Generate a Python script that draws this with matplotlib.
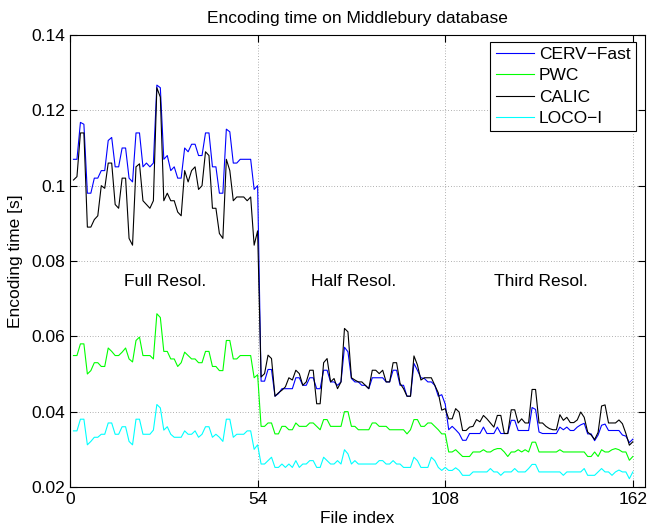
import numpy as np
import matplotlib
matplotlib.use('Agg')
import matplotlib.pyplot as plt

### Data, one value per file, index 1..162
file_index = np.arange(1, 163)

# Full resolution 1-54, half 55-108, third 109-162
cerv_fast = [
    0.107, 0.107, 0.1168, 0.1163, 0.098, 0.098, 0.102, 0.102, 0.104, 0.104,
    0.112, 0.1128, 0.105, 0.105, 0.110, 0.110, 0.102, 0.101, 0.114, 0.114,
    0.105, 0.106, 0.105, 0.106, 0.1267, 0.126, 0.107, 0.108, 0.104, 0.105,
    0.102, 0.102, 0.110, 0.109, 0.111, 0.111, 0.108, 0.108, 0.114, 0.114,
    0.105, 0.105, 0.098, 0.098, 0.115, 0.1143, 0.106, 0.106, 0.107, 0.107,
    0.107, 0.107, 0.099, 0.100,
    0.0481, 0.0481, 0.0512, 0.0512, 0.0441, 0.0448, 0.0461, 0.0461, 0.0461, 0.0461,
    0.049, 0.049, 0.047, 0.047, 0.049, 0.049, 0.0461, 0.0461, 0.051, 0.051,
    0.0479, 0.0479, 0.047, 0.0479, 0.0571, 0.0559, 0.0488, 0.0479, 0.0479, 0.047,
    0.047, 0.0461, 0.049, 0.049, 0.049, 0.049, 0.0479, 0.0479, 0.051, 0.051,
    0.047, 0.047, 0.0441, 0.0441, 0.0528, 0.051, 0.049, 0.0488, 0.0479, 0.0479,
    0.047, 0.0441, 0.0445, 0.042,
    0.0352, 0.0361, 0.0352, 0.0342, 0.0324, 0.0324, 0.0342, 0.0342, 0.0342, 0.0342,
    0.0359, 0.0342, 0.0342, 0.0342, 0.0359, 0.0342, 0.0342, 0.0342, 0.0377, 0.0377,
    0.035, 0.035, 0.035, 0.035, 0.0411, 0.0406, 0.0346, 0.0342, 0.0342, 0.0342,
    0.0342, 0.0342, 0.0359, 0.0352, 0.0359, 0.035, 0.035, 0.0359, 0.0365, 0.0369,
    0.0341, 0.0341, 0.0323, 0.0338, 0.0364, 0.0367, 0.035, 0.035, 0.035, 0.035,
    0.0338, 0.0335, 0.0318, 0.0327]

pwc = [
    0.0549, 0.0549, 0.058, 0.058, 0.050, 0.0509, 0.053, 0.053, 0.052, 0.052,
    0.0569, 0.056, 0.0549, 0.0549, 0.0558, 0.0569, 0.054, 0.0532, 0.0589, 0.0598,
    0.0549, 0.0549, 0.0549, 0.054, 0.066, 0.065, 0.056, 0.056, 0.054, 0.054,
    0.052, 0.053, 0.0558, 0.0549, 0.054, 0.054, 0.053, 0.053, 0.056, 0.056,
    0.052, 0.052, 0.0509, 0.0509, 0.0589, 0.0589, 0.054, 0.054, 0.0549, 0.0549,
    0.0549, 0.0549, 0.049, 0.0498,
    0.0361, 0.0361, 0.037, 0.037, 0.0341, 0.0341, 0.0361, 0.0361, 0.0352, 0.0352,
    0.037, 0.0361, 0.0361, 0.0361, 0.037, 0.037, 0.0361, 0.0352, 0.0379, 0.0379,
    0.0361, 0.0361, 0.0361, 0.0361, 0.040, 0.040, 0.0361, 0.0361, 0.0352, 0.0352,
    0.0352, 0.0352, 0.037, 0.037, 0.0361, 0.0361, 0.0361, 0.0352, 0.0352, 0.0352,
    0.0352, 0.0352, 0.0341, 0.0352, 0.0379, 0.0379, 0.0361, 0.0361, 0.037, 0.037,
    0.0361, 0.0352, 0.0341, 0.0341,
    0.0293, 0.0293, 0.0299, 0.029, 0.0281, 0.0281, 0.0281, 0.0293, 0.0293, 0.0293,
    0.0299, 0.0293, 0.0293, 0.0299, 0.0302, 0.0302, 0.0293, 0.0281, 0.0293, 0.0293,
    0.0299, 0.0293, 0.0299, 0.0293, 0.0319, 0.0319, 0.0293, 0.0293, 0.0293, 0.0293,
    0.0293, 0.0293, 0.0299, 0.0293, 0.0293, 0.0293, 0.0293, 0.0293, 0.0293, 0.0293,
    0.0281, 0.0281, 0.0293, 0.0281, 0.0299, 0.0293, 0.0293, 0.0299, 0.0302, 0.0299,
    0.0293, 0.0293, 0.0271, 0.0281]

calic = [
    0.1015, 0.1024, 0.114, 0.114, 0.089, 0.089, 0.091, 0.092, 0.100, 0.0993,
    0.106, 0.106, 0.095, 0.094, 0.102, 0.102, 0.086, 0.0842, 0.105, 0.1058,
    0.096, 0.095, 0.094, 0.096, 0.126, 0.1235, 0.096, 0.098, 0.096, 0.096,
    0.093, 0.092, 0.104, 0.101, 0.104, 0.105, 0.099, 0.100, 0.109, 0.108,
    0.094, 0.094, 0.0873, 0.086, 0.107, 0.104, 0.096, 0.097, 0.097, 0.097,
    0.096, 0.097, 0.0842, 0.088,
    0.0492, 0.0501, 0.055, 0.0541, 0.0441, 0.045, 0.0457, 0.0466, 0.049, 0.0484,
    0.051, 0.0501, 0.047, 0.0479, 0.051, 0.051, 0.0421, 0.0421, 0.053, 0.0541,
    0.0479, 0.0488, 0.0461, 0.0479, 0.0621, 0.0612, 0.049, 0.0484, 0.0479, 0.0479,
    0.047, 0.0461, 0.051, 0.051, 0.0501, 0.051, 0.0479, 0.0479, 0.053, 0.053,
    0.0475, 0.0461, 0.0441, 0.0441, 0.0548, 0.0524, 0.0484, 0.049, 0.049, 0.049,
    0.047, 0.045, 0.0404, 0.0408,
    0.0381, 0.0381, 0.0408, 0.0399, 0.035, 0.035, 0.0359, 0.0361, 0.0379, 0.0373,
    0.039, 0.0381, 0.037, 0.0359, 0.039, 0.039, 0.0342, 0.0342, 0.0405, 0.0405,
    0.037, 0.0381, 0.037, 0.037, 0.0459, 0.0459, 0.037, 0.037, 0.0361, 0.0355,
    0.0352, 0.0352, 0.0392, 0.0377, 0.0385, 0.0371, 0.0371, 0.0378, 0.0399, 0.0385,
    0.0346, 0.0338, 0.0326, 0.0345, 0.0415, 0.0418, 0.037, 0.037, 0.037, 0.0378,
    0.0368, 0.0342, 0.0311, 0.032]

loco_i = [
    0.0349, 0.0349, 0.038, 0.038, 0.0312, 0.0321, 0.0332, 0.0332, 0.034, 0.034,
    0.037, 0.037, 0.034, 0.034, 0.036, 0.036, 0.0321, 0.0312, 0.038, 0.038,
    0.034, 0.034, 0.034, 0.0351, 0.0419, 0.041, 0.0351, 0.036, 0.034, 0.0332,
    0.0332, 0.0332, 0.0349, 0.034, 0.034, 0.0349, 0.0332, 0.034, 0.036, 0.036,
    0.0332, 0.034, 0.0332, 0.0321, 0.038, 0.038, 0.0332, 0.034, 0.034, 0.034,
    0.0349, 0.0349, 0.030, 0.0312,
    0.0261, 0.0261, 0.027, 0.0279, 0.0252, 0.0252, 0.0261, 0.0252, 0.0261, 0.0252,
    0.027, 0.0252, 0.0261, 0.0261, 0.027, 0.027, 0.0252, 0.0252, 0.0279, 0.027,
    0.0261, 0.0261, 0.027, 0.0261, 0.0299, 0.0288, 0.0261, 0.027, 0.0261, 0.0261,
    0.0261, 0.0261, 0.0261, 0.0261, 0.027, 0.027, 0.0261, 0.0261, 0.027, 0.0261,
    0.0261, 0.0252, 0.0252, 0.0252, 0.0279, 0.027, 0.0252, 0.0252, 0.0252, 0.0279,
    0.027, 0.0252, 0.0244, 0.0252,
    0.0244, 0.0244, 0.0251, 0.0244, 0.0231, 0.0231, 0.0231, 0.024, 0.024, 0.024,
    0.024, 0.024, 0.0249, 0.024, 0.024, 0.0231, 0.024, 0.024, 0.024, 0.0249,
    0.024, 0.024, 0.024, 0.0249, 0.026, 0.026, 0.024, 0.024, 0.024, 0.024,
    0.024, 0.024, 0.024, 0.0231, 0.024, 0.024, 0.024, 0.024, 0.024, 0.0249,
    0.0231, 0.0231, 0.0231, 0.024, 0.0249, 0.024, 0.024, 0.0231, 0.024, 0.0245,
    0.024, 0.024, 0.0222, 0.024]

series_names = ['CERV\u2212Fast', 'PWC', 'CALIC', 'LOCO\u2212I']
series_colors = ['#0000ff', '#00ff00', '#000000', '#00ffff']
xtick_vals = [0, 54, 108, 162]
ytick_vals = [0.02, 0.04, 0.06, 0.08, 0.1, 0.12, 0.14]
region_labels = ['Full Resol.', 'Half Resol.', 'Third Resol.']
region_centres = [27.5, 81.5, 135.5]

### Plot
plt.rcParams['font.family'] = ['Liberation Sans', 'DejaVu Sans']
plt.rcParams['font.size'] = 12.5

fig = plt.figure(figsize=(6.48, 5.30), dpi=100)
ax = fig.add_axes([70/648, 1-487/530, 575/648, 452/530])

for vals, name, col in zip([cerv_fast, pwc, calic, loco_i], series_names, series_colors):
    ax.plot(file_index, vals, color=col, linewidth=0.8, label=name)

for xc, lab in zip(region_centres, region_labels):
    ax.text(xc, 0.0745, lab, ha='center', va='center')

ax.set_xlim(0, 165.5)
ax.set_ylim(0.02, 0.14)
ax.set_xticks(xtick_vals)
ax.set_xticklabels([str(v) for v in xtick_vals])
ax.set_yticks(ytick_vals)
ax.set_yticklabels(['0.02', '0.04', '0.06', '0.08', '0.1', '0.12', '0.14'])
ax.grid(True, linestyle=(0, (1, 3)), color='black', linewidth=0.5, alpha=0.6)
ax.tick_params(direction='in', top=True, right=True, length=5, width=0.8)
for sp in ax.spines.values():
    sp.set_linewidth(0.8)

ax.set_xlabel('File index', labelpad=3)
ax.set_ylabel('Encoding time [s]', labelpad=6)
ax.set_title('Encoding time on Middlebury database', fontsize=12.5, pad=9)

leg = ax.legend(loc='upper right', bbox_to_anchor=(0.984, 0.985), borderaxespad=0,
                fancybox=False, framealpha=1, edgecolor='black',
                handlelength=2.2, handletextpad=0.3, labelspacing=0.35,
                borderpad=0.3)
leg.get_frame().set_linewidth(0.8)

fig.savefig('out.png', dpi=100)
